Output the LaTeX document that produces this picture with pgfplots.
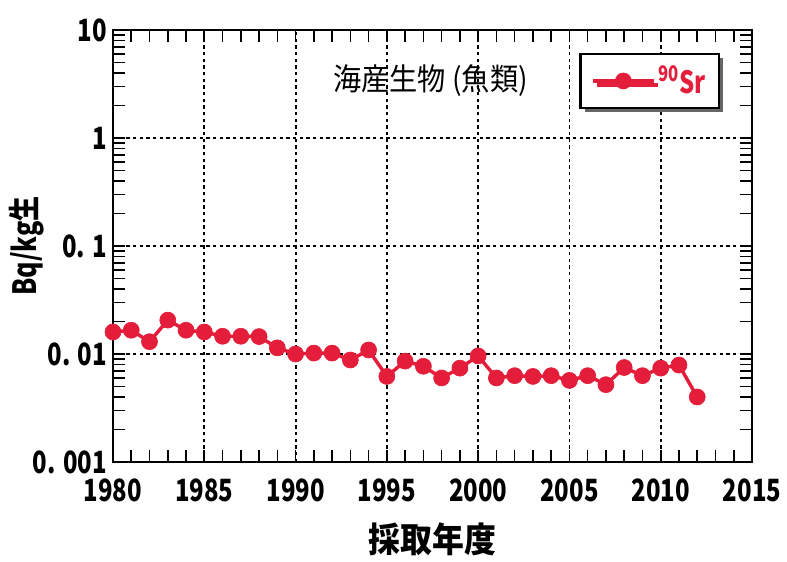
\documentclass[border=0pt]{standalone}
\usepackage{pgfplots}
\pgfplotsset{compat=1.18}
\usepackage{fontspec}
\setmainfont{Noto Sans CJK JP}[FakeStretch=0.78]
\newfontfamily\cjkfont{Noto Sans CJK JP}[FakeStretch=0.92]
\usetikzlibrary{shadows}
\definecolor{srred}{RGB}{228,30,58}
\begin{document}
\begin{tikzpicture}
\useasboundingbox (-84.75pt,-74.25pt) rectangle (505.5pt,346.5pt);
\begin{axis}[
  at={(0pt,0pt)}, anchor=south west,
  scale only axis, width=479.25pt, height=324pt,
  ymode=log, ymin=0.001, ymax=10,
  xmin=1980, xmax=2015,
  xtick={1980,1985,...,2015},
  minor x tick num=4,
  ytick={0.001,0.01,0.1,1,10},
  yticklabels={0. 001,0. 01,0. 1,1,10},
  /pgf/number format/1000 sep={},
  /pgf/number format/assume math mode=true,
  axis line style={line width=2.2pt},
  tick style={black, line width=1.2pt},
  major tick length=9pt, minor tick length=9pt,
  grid=major,
  major grid style={black, line width=1.4pt, dash pattern=on 2.5pt off 2.5pt},
  tick align=inside,
  ticklabel style={font=\fontsize{23}{24}\selectfont\bfseries},
  xticklabel style={yshift=-9pt},
  yticklabel style={xshift=-1pt},
  xlabel={\cjkfont\bfseries 採取年度},
  xlabel style={font=\fontsize{26}{28}\selectfont, at={(axis description cs:0.5,-0.18)}, anchor=center},
  ylabel={Bq/kg生},
  ylabel style={font=\fontsize{24}{26}\selectfont\bfseries, at={(axis description cs:-0.135,0.5)}, anchor=center, rotate=0},
  legend style={at={(axis description cs:0.84,0.882)}, anchor=center, draw=black, line width=2pt,
    drop shadow={shadow xshift=3pt, shadow yshift=-3pt, fill=black!60, opacity=1},
    font=\fontsize{23}{24}\selectfont\bfseries, text=srred, inner xsep=8pt, inner ysep=7pt},
  legend image code/.code={\draw[mark repeat=2,mark phase=2,#1] plot coordinates {(0cm,0cm)(0.8cm,0cm)(1.6cm,0cm)};},
]
\addplot[color=srred, line width=2.6pt, mark=*, mark size=6pt, mark options={fill=srred, draw=srred, line width=0.5pt}]
coordinates {
(1980,0.0160)(1981,0.0166)(1982,0.0130)(1983,0.0206)(1984,0.0166)
(1985,0.0160)(1986,0.0146)(1987,0.0146)(1988,0.0145)(1989,0.0114)
(1990,0.0100)(1991,0.0102)(1992,0.0102)(1993,0.0088)(1994,0.0109)
(1995,0.0062)(1996,0.0086)(1997,0.0077)(1998,0.0060)(1999,0.0074)
(2000,0.0096)(2001,0.0060)(2002,0.0063)(2003,0.0062)(2004,0.0063)
(2005,0.0057)(2006,0.0063)(2007,0.0052)(2008,0.0075)(2009,0.0063)
(2010,0.0074)(2011,0.0079)(2012,0.0040)
};
\addlegendentry{\textsuperscript{90}Sr}
\node[font=\cjkfont\fontsize{23}{25}\selectfont] at (axis description cs:0.497,0.884) {海産生物 (魚類)};
\end{axis}
\end{tikzpicture}
\end{document}
